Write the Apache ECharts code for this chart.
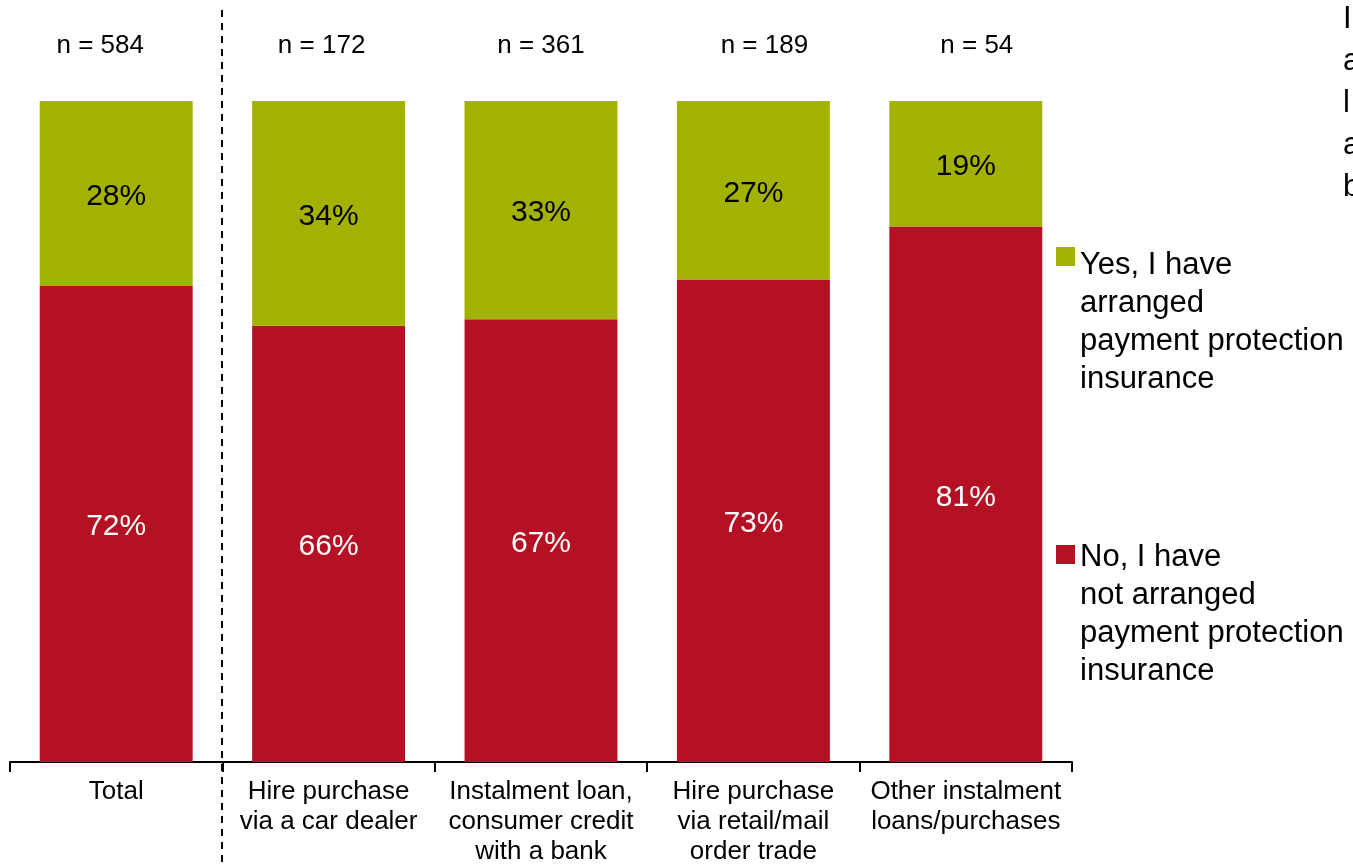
<!DOCTYPE html>
<html>
<head>
<meta charset="utf-8">
<title>Payment protection insurance by type of credit</title>
<script src="https://cdn.jsdelivr.net/npm/echarts@6/dist/echarts.min.js"></script>
<style>
  html, body { margin: 0; padding: 0; background: #ffffff; }
  #chart { width: 1353px; height: 868px; }
</style>
</head>
<body>
<div id="chart"></div>
<script>
// Credit types shown along the axis
const categories = [
  'Total',
  'Hire purchase\nvia a car dealer',
  'Instalment loan,\nconsumer credit\nwith a bank',
  'Hire purchase\nvia retail/mail\norder trade',
  'Other instalment\nloans/purchases'
];
// Number of respondents per group
const sampleSizes = [584, 172, 361, 189, 54];
// Share (%) answering "No" and "Yes"
const noValues = [72, 66, 67, 73, 81];
const yesValues = [28, 34, 33, 27, 19];
const seriesNames = [
  'Yes, I have\narranged\npayment protection\ninsurance',
  'No, I have\nnot arranged\npayment protection\ninsurance'
];
// Start of the neighbouring text block, clipped by the page edge
const sideLetters = ['I', 'a', 'l', 'a', 'b'];

const FONT = "'Liberation Sans', Arial, sans-serif";
const GREEN = '#A3B100';
const RED = '#B41224';

// Horizontal nudges of the "n = ..." captions relative to their bar centres
const sampleLabelShift = [-16, -7, 0, 11, 11];

const chart = echarts.init(document.getElementById('chart'), null, { renderer: 'canvas' });

const option = {
  backgroundColor: '#ffffff',
  animation: false,
  textStyle: { fontFamily: FONT },
  grid: { left: 10, right: 281, top: 101, bottom: 106, containLabel: false },
  legend: { show: false, data: seriesNames },
  xAxis: {
    type: 'category',
    data: categories,
    position: 'bottom',
    axisLine: { show: true, lineStyle: { color: '#000000', width: 2 } },
    axisTick: { show: true, length: 10, lineStyle: { color: '#000000', width: 2 } },
    axisLabel: {
      interval: 0,
      margin: 15,
      fontFamily: FONT,
      fontSize: 26,
      lineHeight: 30,
      color: '#000000',
      verticalAlign: 'top'
    }
  },
  yAxis: {
    type: 'value',
    min: 0,
    max: 100,
    show: false,
    splitLine: { show: false }
  },
  series: [
    {
      name: seriesNames[1],
      type: 'bar',
      stack: 'share',
      barCategoryGap: '28%',
      data: noValues,
      itemStyle: { color: RED },
      label: {
        show: true,
        position: 'inside',
        offset: [0, 3],
        formatter: '{c}%',
        fontFamily: FONT,
        fontSize: 30,
        color: '#ffffff'
      }
    },
    {
      name: seriesNames[0],
      type: 'bar',
      stack: 'share',
      barCategoryGap: '28%',
      data: yesValues,
      itemStyle: { color: GREEN },
      label: {
        show: true,
        position: 'inside',
        offset: [0, 3],
        formatter: '{c}%',
        fontFamily: FONT,
        fontSize: 30,
        color: '#000000'
      }
    }
  ]
};

chart.setOption(option);

// Dashed divider between the total and the individual credit types
const firstCenter = chart.convertToPixel({ xAxisIndex: 0 }, 0);
const secondCenter = chart.convertToPixel({ xAxisIndex: 0 }, 1);
const dividerX = Math.round((firstCenter + secondCenter) / 2);

const graphics = [
  {
    type: 'line',
    shape: { x1: dividerX, y1: 10, x2: dividerX, y2: 868 },
    style: { stroke: '#000000', lineWidth: 2, lineDash: [7, 6] },
    silent: true
  }
];

// Sample-size captions above each bar
sampleSizes.forEach((n, i) => {
  const cx = chart.convertToPixel({ xAxisIndex: 0 }, i) + sampleLabelShift[i];
  graphics.push({
    type: 'text',
    x: cx,
    y: 46,
    style: {
      text: 'n = ' + n,
      fontFamily: FONT,
      fontSize: 26,
      fill: '#000000',
      align: 'center',
      verticalAlign: 'middle'
    },
    silent: true
  });
});

// Legend: square swatch beside the first line of each wrapped entry
const legendItems = [
  { name: seriesNames[0], color: GREEN, swatchTop: 247, textTop: 246 },
  { name: seriesNames[1], color: RED, swatchTop: 545, textTop: 538 }
];
legendItems.forEach(item => {
  graphics.push({
    type: 'rect',
    shape: { x: 1056, y: item.swatchTop, width: 19, height: 19 },
    style: { fill: item.color },
    silent: true
  });
  graphics.push({
    type: 'text',
    x: 1080,
    y: item.textTop,
    style: {
      text: item.name,
      fontFamily: FONT,
      fontSize: 31,
      lineHeight: 38,
      fill: '#000000',
      align: 'left',
      verticalAlign: 'top'
    },
    silent: true
  });
});

sideLetters.forEach((ch, i) => {
  graphics.push({
    type: 'text',
    x: 1343,
    y: 19 + i * 42,
    style: {
      text: ch,
      fontFamily: FONT,
      fontSize: 31,
      fill: '#000000',
      align: 'left',
      verticalAlign: 'middle'
    },
    silent: true
  });
});

chart.setOption({ graphic: graphics });
</script>
</body>
</html>
